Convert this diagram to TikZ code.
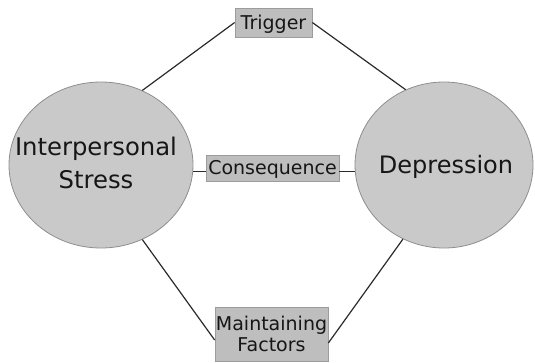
\documentclass[tikz,border=0pt]{standalone}
\usepackage{fontspec}
\setmainfont{DejaVu Sans}
\usetikzlibrary{shapes.geometric}
\definecolor{ellfill}{HTML}{C9C9C9}
\definecolor{elldraw}{HTML}{8E8E8E}
\definecolor{boxfill}{HTML}{BEBEBE}
\definecolor{boxdraw}{HTML}{9C9C9C}
\definecolor{linec}{HTML}{2A2A2A}
\definecolor{txt}{HTML}{161616}
\begin{document}
\begin{tikzpicture}[x=1pt,y=-1pt,
  circ/.style={ellipse, draw=elldraw, fill=ellfill, line width=0.8pt, inner sep=0pt},
  bigtext/.style={text=txt, align=center, inner sep=0pt},
  labbox/.style={draw=boxdraw, fill=boxfill, line width=0.7pt, inner sep=0pt, text=txt,
    font=\fontsize{19}{20.5}\selectfont},
  onel/.style={text height=13.9pt, text depth=0pt},
  link/.style={line width=1.2pt, draw=linec}]
\useasboundingbox (0,0) rectangle (535,362);

\node[circ, minimum width=184pt, minimum height=166pt] (IS) at (101,165) {};
\node[circ, minimum width=178pt, minimum height=166pt] (D) at (444,165) {};

\node[bigtext, font=\fontsize{24.3}{33}\selectfont] (ISt) at (96,163.3) {Interpersonal\\Stress};
\node[bigtext, font=\fontsize{24}{30}\selectfont] (Dt) at (446,166.8) {Depression};

\node[labbox, onel, minimum width=77pt, minimum height=29pt] (T) at (273.5,22.5) {Trigger};
\node[labbox, onel, minimum width=133pt, minimum height=26pt] (C) at (272.5,168) {Consequence};
\node[labbox, align=center, minimum width=113pt, minimum height=54pt] (M) at (271.5,334) {Maintaining\\Factors};

\draw[link] (IS.61) -- (T.west);
\draw[link] (T.east) -- (D.117);
\draw[link] (IS.-4.4) -- (C.west |- IS.-4.4);
\draw[link] (C.east |- D.184.5) -- (D.184.5);
\draw[link] (IS.-61.6) -- ([yshift=-6pt]M.west);
\draw[link] ([yshift=-9pt]M.east) -- (D.241.5);
\end{tikzpicture}
\end{document}
